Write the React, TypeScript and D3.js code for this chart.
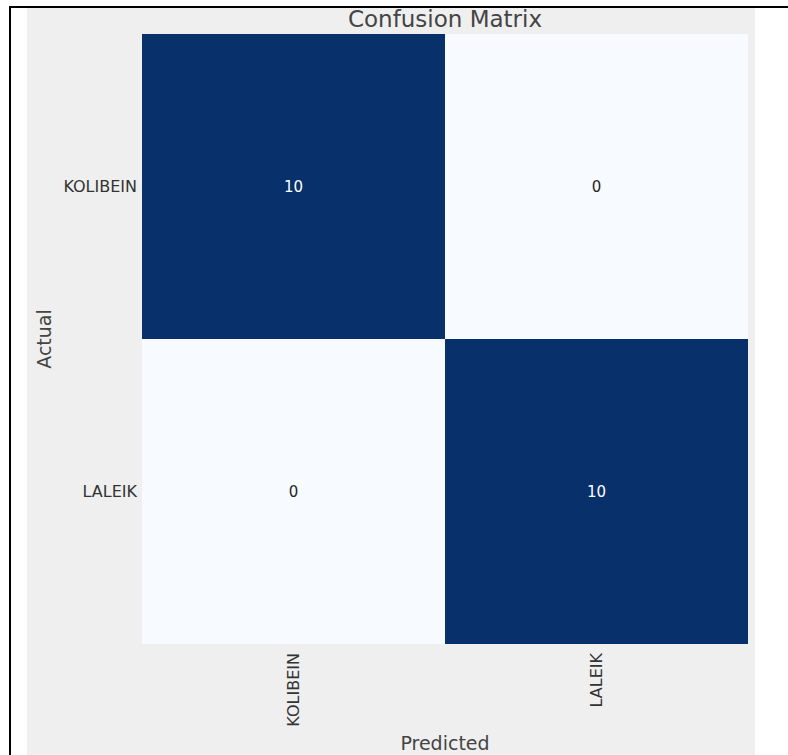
import React from "react";
import * as d3 from "d3";

const categories = ["KOLIBEIN", "LALEIK"];
const actualLabels = ["KOLIBEIN", "LALEIK"];
const predictedLabels = ["KOLIBEIN", "LALEIK"];
// rows = actual, cols = predicted
const matrixValues = [
  [10, 0],
  [0, 10],
];
const titleText = "Confusion Matrix";
const xAxisTitle = "Predicted";
const yAxisTitle = "Actual";

const W = 788;
const H = 755;
const FONT = "'DejaVu Sans', sans-serif";

export default function App() {
  const x = d3.scaleBand<string>().domain(predictedLabels).range([142, 748]);
  const y = d3.scaleBand<string>().domain(actualLabels).range([34, 644]);
  const vmax = d3.max(matrixValues.flat()) ?? 1;
  const vmin = d3.min(matrixValues.flat()) ?? 0;
  const color = d3.scaleSequential(d3.interpolateBlues).domain([vmin, vmax]);

  const cells = matrixValues.flatMap((row, i) =>
    row.map((v, j) => ({ a: actualLabels[i], p: predictedLabels[j], v }))
  );

  const xMid = (x.range()[0] + x.range()[1]) / 2;
  const yMid = (y.range()[0] + y.range()[1]) / 2;

  return (
    <div style={{ position: "absolute", left: 0, top: 0, width: W, height: H, background: "#fff" }}>
      <svg width={W} height={H} style={{ display: "block" }} fontFamily={FONT}>
        <rect x={0} y={0} width={W} height={H} fill="#ffffff" />
        <rect x={27} y={8} width={728} height={H - 8} fill="#efefef" />
        <line x1={9} x2={W} y1={7} y2={7} stroke="#000" strokeWidth={2} />
        <line x1={10} x2={10} y1={6} y2={H} stroke="#000" strokeWidth={2} />

        {cells.map((c, k) => (
          <rect
            key={k}
            x={x(c.p)}
            y={y(c.a)}
            width={x.bandwidth()}
            height={y.bandwidth()}
            fill={color(c.v)}
          />
        ))}
        {cells.map((c, k) => (
          <text
            key={"t" + k}
            x={(x(c.p) ?? 0) + x.bandwidth() / 2}
            y={(y(c.a) ?? 0) + y.bandwidth() / 2}
            dy="0.36em"
            textAnchor="middle"
            fontSize={15}
            fill={c.v > (vmin + vmax) / 2 ? "#ffffff" : "#262626"}
          >
            {c.v}
          </text>
        ))}

        {actualLabels.map((l) => (
          <text
            key={"y" + l}
            x={137}
            y={(y(l) ?? 0) + y.bandwidth() / 2}
            dy="0.36em"
            textAnchor="end"
            fontSize={16}
            fill="#333"
          >
            {l}
          </text>
        ))}
        {predictedLabels.map((l) => {
          const cx = (x(l) ?? 0) + x.bandwidth() / 2;
          return (
            <text
              key={"x" + l}
              transform={`translate(${cx},653) rotate(-90)`}
              dy="0.36em"
              textAnchor="end"
              fontSize={16}
              fill="#333"
            >
              {l}
            </text>
          );
        })}

        <text x={xMid} y={27} textAnchor="middle" fontSize={23} fill="#444">
          {titleText}
        </text>
        <text x={xMid} y={750} textAnchor="middle" fontSize={19} fill="#444">
          {xAxisTitle}
        </text>
        <text
          transform={`translate(51,${yMid}) rotate(-90)`}
          textAnchor="middle"
          fontSize={19}
          fill="#444"
        >
          {yAxisTitle}
        </text>
      </svg>
    </div>
  );
}
